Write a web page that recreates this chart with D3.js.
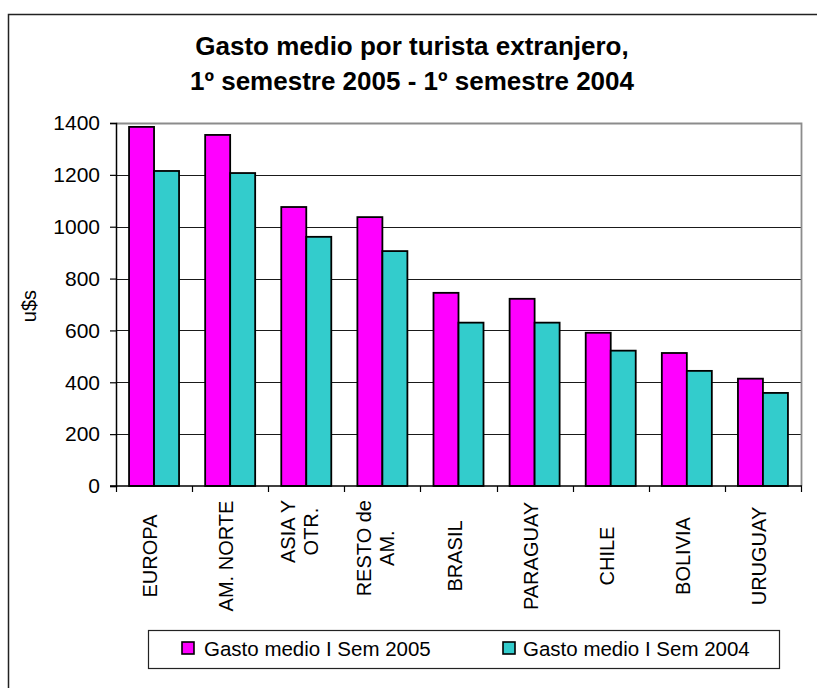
<!DOCTYPE html>
<html><head><meta charset="utf-8">
<script src="https://cdn.jsdelivr.net/npm/d3@7"></script>
<style>
html,body{margin:0;padding:0;background:#fff;}
svg{display:block;font-family:"Liberation Sans",Arial,sans-serif;}
</style></head>
<body><svg id="c" width="817" height="688"></svg>
<script>
const categories = ["EUROPA","AM. NORTE","ASIA Y\nOTR.","RESTO de\nAM.","BRASIL","PARAGUAY","CHILE","BOLIVIA","URUGUAY"];
const gasto2005 = [1385,1354,1076,1037,745,722,591,513,414];
const gasto2004 = [1215,1207,961,906,630,630,522,444,359];
const seriesNames = ["Gasto medio I Sem 2005","Gasto medio I Sem 2004"];
const seriesColors = ["#FF00FF","#33CCCC"];
const yTicks = [0,200,400,600,800,1000,1200,1400];
const titleLines = ["Gasto medio por turista extranjero,","1º semestre 2005 - 1º semestre 2004"];
const yLabel = "u$s";

const svg = d3.select("#c");
const L=116, R=801, T=123, B=486;

// outer chart border
svg.append("rect").attr("x",8.5).attr("y",14.5).attr("width",900).attr("height",900)
  .attr("fill","none").attr("stroke","#222").attr("stroke-width",1.5);

const x = d3.scaleBand().domain(categories).range([L,R]).padding(0);
const xs = d3.scaleBand().domain([0,1]).range([0,x.bandwidth()]).paddingInner(0).paddingOuter(0.522);
const y = d3.scaleLinear().domain([0,1400]).range([B,T]);

// gridlines
svg.append("g").selectAll("line").data(yTicks.filter(d=>d>0 && d<1400)).join("line")
  .attr("x1",L).attr("x2",R)
  .attr("y1",d=>Math.round(y(d))+0.5).attr("y2",d=>Math.round(y(d))+0.5)
  .attr("stroke","#1a1a1a").attr("stroke-width",1.2);

// plot border (top & right gray)
svg.append("path").attr("d",`M${L},${T+0.5}H${R+0.5}V${B}`)
  .attr("fill","none").attr("stroke","#8c8c8c").attr("stroke-width",1.8);

// bars
const data = categories.map((c,i)=>({c, v:[gasto2005[i],gasto2004[i]]}));
const g = svg.append("g");
data.forEach(d=>{
  d.v.forEach((v,j)=>{
    g.append("rect")
      .attr("x",x(d.c)+xs(j)).attr("width",xs.bandwidth())
      .attr("y",y(v)).attr("height",B-y(v))
      .attr("fill",seriesColors[j]).attr("stroke","#000").attr("stroke-width",1.8);
  });
});

// y axis
const ya = svg.append("g").attr("transform",`translate(${L},0)`)
  .call(d3.axisLeft(y).tickValues(yTicks).tickSize(6).tickPadding(10).tickFormat(d3.format("d")));
ya.select(".domain").attr("stroke","#000").attr("stroke-width",1.5);
ya.selectAll(".tick line").attr("stroke","#000").attr("stroke-width",1.2);
ya.selectAll(".tick text").attr("font-size","21px").attr("fill","#000").attr("font-family","Liberation Sans, Arial, sans-serif");

// x axis
svg.append("line").attr("x1",L-6).attr("x2",R+1).attr("y1",B).attr("y2",B).attr("stroke","#000").attr("stroke-width",1.5);
const bounds = categories.map(c=>x(c)).concat([x(categories[categories.length-1])+x.bandwidth()]);
svg.append("g").selectAll("line").data(bounds).join("line")
  .attr("x1",d=>Math.round(d)+0.5).attr("x2",d=>Math.round(d)+0.5).attr("y1",B).attr("y2",B+6)
  .attr("stroke","#000").attr("stroke-width",1.2);

// x labels
const xl = svg.append("g").attr("font-size","20px").attr("fill","#000");
categories.forEach(c=>{
  const cx = x(c)+x.bandwidth()/2;
  const lines = c.split("\n");
  if(lines.length===1){
    xl.append("text").attr("transform",`translate(${cx+3},556) rotate(-90)`)
      .attr("text-anchor","middle").text(c);
  } else {
    const tmp = lines.map(t=>{const e=xl.append("text").text(t); const w=e.node().getComputedTextLength(); e.remove(); return w;});
    const mx = d3.max(tmp);
    const cy = 500 + mx/2;
    lines.forEach((t,k)=>{
      xl.append("text").attr("transform",`translate(${cx-11+k*23},${cy}) rotate(-90)`)
        .attr("text-anchor","middle").text(t);
    });
  }
});

// title
svg.append("g").selectAll("text").data(titleLines).join("text")
  .attr("x",412).attr("y",(d,i)=>55+i*35).attr("text-anchor","middle")
  .attr("font-size","26px").attr("font-weight","bold").attr("fill","#000").text(d=>d);

// y label
svg.append("text").attr("transform","translate(36,306) rotate(-90)").attr("text-anchor","middle")
  .attr("font-size","20px").attr("fill","#000").text(yLabel);

// legend
const lg = svg.append("g");
lg.append("rect").attr("x",148.5).attr("y",630.5).attr("width",631).attr("height",38)
  .attr("fill","#fff").attr("stroke","#222").attr("stroke-width",1.2);
const legX = [182,503], legT=[204,523];
seriesNames.forEach((n,i)=>{
  lg.append("rect").attr("x",legX[i]).attr("y",642).attr("width",12).attr("height",12)
    .attr("fill",seriesColors[i]).attr("stroke","#000").attr("stroke-width",1.6);
  lg.append("text").attr("x",legT[i]).attr("y",655.5).attr("font-size","20.5px").attr("fill","#000").text(n);
});
</script></body></html>
